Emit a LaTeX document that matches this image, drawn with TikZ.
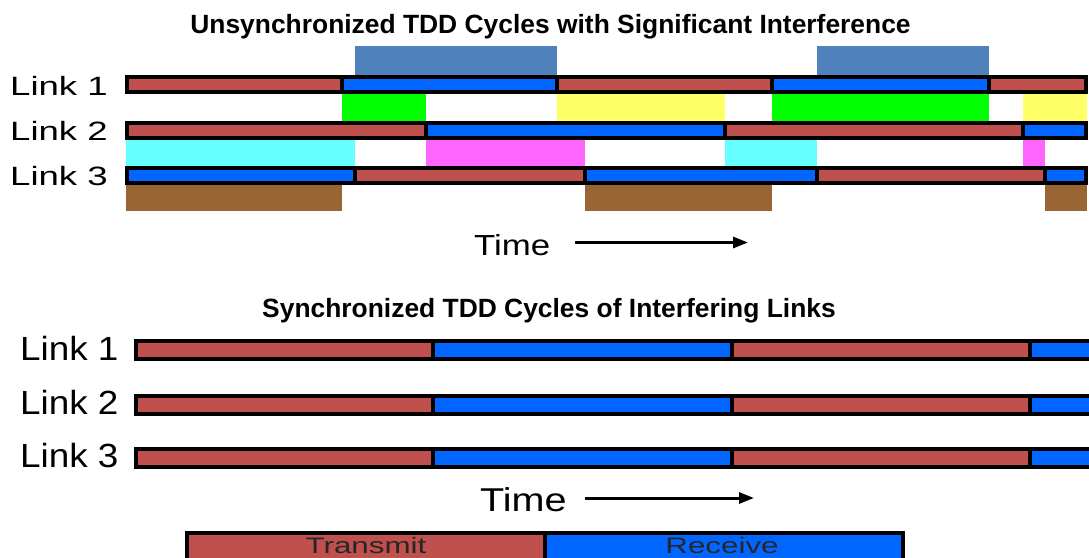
\documentclass[tikz,border=0pt]{standalone}
\usepackage{fontspec}
\setmainfont{Liberation Sans}
\newfontfamily\ltopfont[FakeStretch=1.38]{Liberation Sans}
\newfontfamily\lbotfont[FakeStretch=1.1]{Liberation Sans}
\newfontfamily\timefont[FakeStretch=1.2]{Liberation Sans}
\newfontfamily\legfont[FakeStretch=1.4]{Liberation Sans}
\usetikzlibrary{arrows.meta}
\definecolor{tx}{HTML}{C0504D}
\definecolor{rx}{HTML}{0066FF}
\definecolor{steel}{HTML}{4F81BD}
\definecolor{igreen}{HTML}{00FF00}
\definecolor{iyellow}{HTML}{FFFF66}
\definecolor{icyan}{HTML}{66FFFF}
\definecolor{imag}{HTML}{FF66FF}
\definecolor{ibrown}{HTML}{996633}
\begin{document}
\begin{tikzpicture}[x=1pt,y=-1pt,
  seg/.style={draw=black, line width=3.2pt},
  txseg/.style={seg, fill=tx},
  rxseg/.style={seg, fill=rx},
  title/.style={font=\bfseries\fontsize{26.4}{30}\selectfont, inner sep=0pt, anchor=base},
  ltop/.style={font=\ltopfont\fontsize{26.5}{30}\selectfont, inner sep=0pt, anchor=base west},
  lbot/.style={font=\lbotfont\fontsize{33.5}{38}\selectfont, inner sep=0pt, anchor=base west},
  timelab/.style={font=\timefont\fontsize{#1}{36}\selectfont, inner sep=0pt, anchor=base west},
  timearrow/.style={line width=3pt, -{Triangle[length=15pt,width=11pt]}},
  leg/.style={font=\legfont\fontsize{22.4}{26}\selectfont, inner sep=0pt, anchor=base, text=black!85}]
\useasboundingbox (0,0) rectangle (1089,557);
\clip (0,0) rectangle (1089,557);

% titles
\node[title] (t1) at (550.5,33) {Unsynchronized TDD Cycles with Significant Interference};
\node[title] (t2) at (549,317) {Synchronized TDD Cycles of Interfering Links};

% interference blocks (top)
\fill[steel] (355,46) rectangle (557,77);
\fill[steel] (817,46) rectangle (989,77);
\fill[igreen] (342,92) rectangle (426,123);
\fill[iyellow] (557,92) rectangle (725,123);
\fill[igreen] (772,92) rectangle (989,123);
\fill[iyellow] (1023,92) rectangle (1087,123);
\fill[icyan] (126,138) rectangle (355,168);
\fill[imag] (426,138) rectangle (585,168);
\fill[icyan] (725,138) rectangle (817,168);
\fill[imag] (1023,138) rectangle (1045,168);
\fill[ibrown] (126,183) rectangle (342,211);
\fill[ibrown] (585,183) rectangle (772,211);
\fill[ibrown] (1045,183) rectangle (1087,211);

% top bars
\foreach \a/\b/\s in {127/342/txseg,342/557/rxseg,557/772/txseg,772/989/rxseg,989/1086/txseg}
  \draw[\s] (\a,77) rectangle (\b,92);
\foreach \a/\b/\s in {127/426/txseg,426/725/rxseg,725/1023/txseg,1023/1086/rxseg}
  \draw[\s] (\a,123) rectangle (\b,138);
\foreach \a/\b/\s in {127/355/rxseg,355/585/txseg,585/817/rxseg,817/1045/txseg,1045/1086/rxseg}
  \draw[\s] (\a,168) rectangle (\b,183);

% top labels
\node[ltop] (l1) at (10,95) {Link 1};
\node[ltop] (l2) at (10,140) {Link 2};
\node[ltop] (l3) at (10,185.5) {Link 3};

% top time arrow
\node[timelab=29] (time1) at (474,255) {Time};
\coordinate (a1s) at (575,242.5);
\coordinate (a1e) at (748,242.5);
\draw[timearrow] (a1s) -- (a1e);

% bottom bars
\foreach \y in {341,396,449}{
  \foreach \a/\b/\s in {136/433/txseg,433/732/rxseg,732/1030/txseg,1030/1100/rxseg}
    \draw[\s] (\a,\y) rectangle (\b,\y+18);
}
\node[lbot] (b1) at (20,360) {Link 1};
\node[lbot] (b2) at (20,414.5) {Link 2};
\node[lbot] (b3) at (20,467.5) {Link 3};

% bottom time arrow
\node[timelab=33] (time2) at (480,511.5) {Time};
\coordinate (a2s) at (585,498);
\coordinate (a2e) at (754,498);
\draw[timearrow] (a2s) -- (a2e);

% legend
\draw[txseg] (187,533) rectangle (545,575);
\draw[rxseg] (545,533) rectangle (903,575);
\node[leg] (lt) at (366,553) {Transmit};
\node[leg] (lr) at (722,553) {Receive};
\end{tikzpicture}
\end{document}
